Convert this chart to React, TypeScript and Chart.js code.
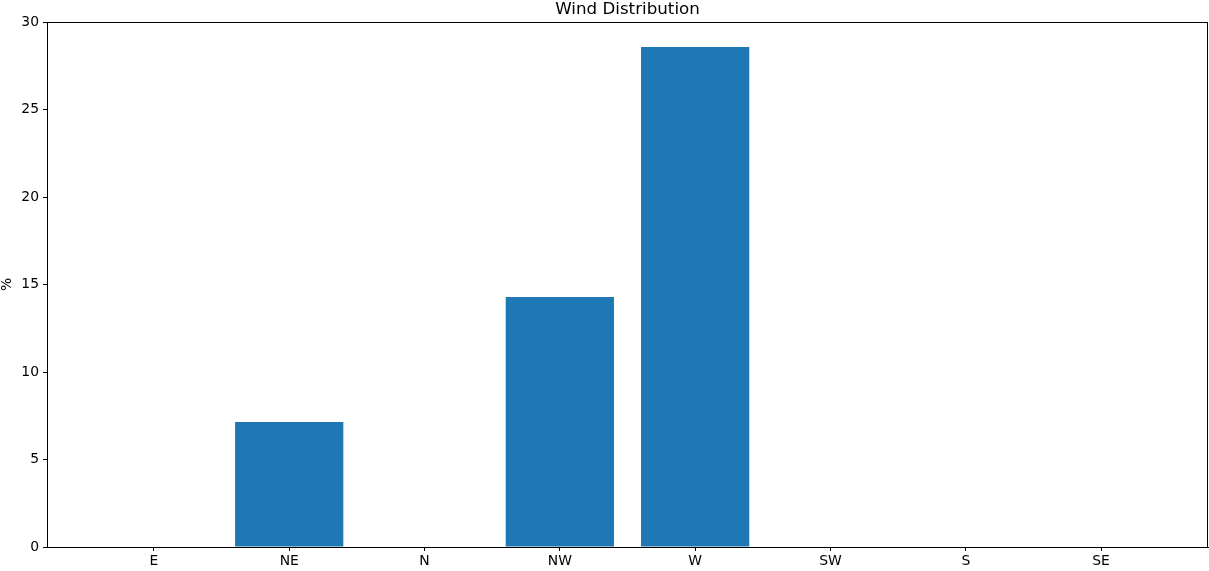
import React, { useEffect, useRef } from "react";
import { Chart, registerables } from "chart.js";

Chart.register(...registerables);

const categories = ["E", "NE", "N", "NW", "W", "SW", "S", "SE"];
const percentValues = [0, 7.14, 0, 14.29, 28.57, 0, 0, 0];
const yTicks = [0, 5, 10, 15, 20, 25, 30];
const chartTitle = "Wind Distribution";
const yAxisTitle = "%";

const FONT = "'DejaVu Sans', sans-serif";

const framePlugin = {
  id: "frameAndTitles",
  afterDraw(chart: any) {
    const { ctx, chartArea } = chart;
    ctx.save();
    ctx.strokeStyle = "#000";
    ctx.lineWidth = 1;
    ctx.strokeRect(
      Math.round(chartArea.left) + 0.5,
      Math.round(chartArea.top) + 0.5,
      Math.round(chartArea.right - chartArea.left) - 1,
      Math.round(chartArea.bottom - chartArea.top)
    );
    ctx.fillStyle = "#000";
    ctx.font = `16.7px ${FONT}`;
    ctx.textAlign = "center";
    ctx.textBaseline = "alphabetic";
    ctx.fillText(chartTitle, (chartArea.left + chartArea.right) / 2, chartArea.top - 8);
    ctx.font = `13.9px ${FONT}`;
    ctx.translate(11, (chartArea.top + chartArea.bottom) / 2);
    ctx.rotate(-Math.PI / 2);
    ctx.textBaseline = "alphabetic";
    ctx.fillText(yAxisTitle, 0, 0);
    ctx.restore();
  },
};

export default function App() {
  const ref = useRef<HTMLCanvasElement | null>(null);
  useEffect(() => {
    document.body.style.margin = "0";
    const n = categories.length;
    const pad = 0.05 * (n - 1 + 0.8);
    const chart = new Chart(ref.current as HTMLCanvasElement, {
      type: "bar",
      data: {
        datasets: [
          {
            data: percentValues.map((v, i) => ({ x: i, y: v })),
            backgroundColor: "#1f77b4",
            borderWidth: 0,
            barPercentage: 0.8,
            categoryPercentage: 1,
          },
        ],
      },
      options: {
        animation: false,
        responsive: false,
        maintainAspectRatio: false,
        layout: { padding: { top: 22, left: 0, right: 1, bottom: 0 } },
        plugins: { legend: { display: false }, title: { display: false }, tooltip: { enabled: false } },
        scales: {
          x: {
            type: "linear",
            offset: false,
            min: -0.4 - pad,
            max: n - 1 + 0.4 + pad,
            afterBuildTicks: (scale: any) => {
              scale.ticks = categories.map((_, i) => ({ value: i }));
            },
            afterFit: (scale: any) => {
              scale.height = 24;
            },
            ticks: {
              autoSkip: false,
              maxRotation: 0,
              color: "#000",
              font: { family: FONT, size: 13.9 },
              padding: 2,
              callback: (v: any) => categories[Math.round(Number(v))] ?? "",
            },
            grid: { drawOnChartArea: false, tickLength: 4, color: "#000", offset: false },
            border: { display: true, color: "#000" },
          },
          y: {
            min: 0,
            max: 30,
            afterBuildTicks: (scale: any) => {
              scale.ticks = yTicks.map((v) => ({ value: v }));
            },
            afterFit: (scale: any) => {
              scale.width = 47;
            },
            ticks: {
              color: "#000",
              font: { family: FONT, size: 13.9 },
              padding: 4,
            },
            grid: { drawOnChartArea: false, tickLength: 4, color: "#000" },
            border: { display: true, color: "#000" },
          },
        },
      },
      plugins: [framePlugin],
    } as any);
    return () => chart.destroy();
  }, []);
  return <canvas ref={ref} width={1209} height={571} style={{ display: "block" }} />;
}
